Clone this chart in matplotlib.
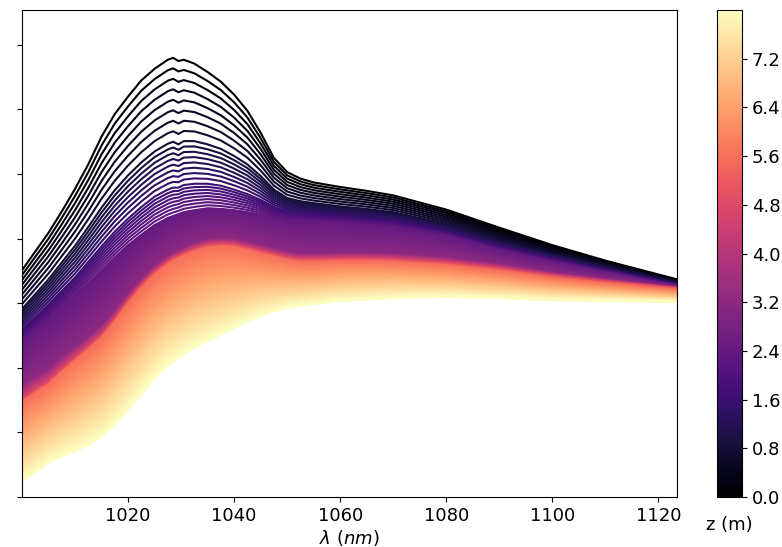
import numpy as np
import matplotlib
matplotlib.use("Agg")
import matplotlib.pyplot as plt
from matplotlib import cm, colors

# Wavelength nodes (nm) shared by all key spectra
wl = np.array([1000, 1002.5, 1005, 1007.5, 1010, 1012.5, 1015, 1017.5, 1020, 1022.5,
               1025, 1027.5, 1028.5, 1029.5, 1030.5, 1032.5, 1035, 1037.5, 1040, 1042.5,
               1045, 1047.5, 1050, 1052.5, 1055, 1060, 1065, 1070, 1080, 1090,
               1100, 1110, 1123.5])

# Key spectra (arbitrary units) at a few depths z (m)
z_key = np.array([0.0, 0.8, 1.6, 2.4, 3.2, 4.8, 5.6, 8.0])
spec_z0 = [3.51, 3.80, 4.09, 4.42, 4.77, 5.15, 5.58, 5.93, 6.20, 6.45,
           6.63, 6.77, 6.80, 6.75, 6.77, 6.71, 6.58, 6.43, 6.23, 5.98,
           5.64, 5.25, 5.03, 4.93, 4.87, 4.80, 4.74, 4.67, 4.45, 4.17,
           3.90, 3.66, 3.37]
spec_z08 = [2.91, 3.14, 3.37, 3.63, 3.89, 4.18, 4.48, 4.75, 4.98, 5.18,
            5.35, 5.47, 5.50, 5.46, 5.51, 5.51, 5.46, 5.39, 5.28, 5.15,
            4.97, 4.76, 4.63, 4.58, 4.55, 4.50, 4.46, 4.41, 4.23, 3.98,
            3.76, 3.57, 3.32]
spec_z16 = [2.58, 2.78, 2.98, 3.19, 3.40, 3.64, 3.88, 4.11, 4.31, 4.49,
            4.65, 4.76, 4.79, 4.79, 4.83, 4.85, 4.85, 4.82, 4.76, 4.69,
            4.60, 4.49, 4.42, 4.39, 4.37, 4.34, 4.31, 4.27, 4.11, 3.88,
            3.69, 3.51, 3.29]
spec_z24 = [2.38, 2.56, 2.74, 2.92, 3.10, 3.31, 3.51, 3.71, 3.90, 4.06,
            4.21, 4.32, 4.35, 4.38, 4.41, 4.44, 4.47, 4.46, 4.44, 4.41,
            4.37, 4.32, 4.28, 4.27, 4.26, 4.24, 4.21, 4.18, 4.04, 3.82,
            3.64, 3.48, 3.27]
spec_z32 = [1.73, 1.86, 1.98, 2.15, 2.32, 2.47, 2.64, 2.87, 3.13, 3.36,
            3.57, 3.72, 3.77, 3.81, 3.85, 3.92, 3.98, 4.00, 3.99, 3.94,
            3.89, 3.84, 3.79, 3.76, 3.76, 3.77, 3.77, 3.76, 3.70, 3.60,
            3.47, 3.37, 3.24]
spec_z48 = [1.50, 1.64, 1.77, 1.96, 2.14, 2.31, 2.49, 2.74, 3.02, 3.26,
            3.47, 3.63, 3.68, 3.72, 3.76, 3.83, 3.89, 3.91, 3.90, 3.85,
            3.80, 3.75, 3.70, 3.67, 3.67, 3.68, 3.68, 3.67, 3.62, 3.53,
            3.42, 3.33, 3.23]
spec_z56 = [1.46, 1.60, 1.73, 1.92, 2.10, 2.27, 2.45, 2.70, 2.98, 3.22,
            3.43, 3.59, 3.64, 3.68, 3.72, 3.79, 3.85, 3.87, 3.86, 3.81,
            3.76, 3.71, 3.66, 3.63, 3.63, 3.64, 3.64, 3.63, 3.58, 3.49,
            3.38, 3.30, 3.20]
spec_z8 = [0.25, 0.38, 0.53, 0.63, 0.71, 0.81, 0.94, 1.12, 1.36, 1.60,
           1.84, 2.04, 2.10, 2.16, 2.21, 2.32, 2.42, 2.52, 2.62, 2.72,
           2.81, 2.88, 2.93, 2.96, 2.99, 3.04, 3.06, 3.08, 3.10, 3.08,
           3.05, 3.04, 3.02]
spectra = np.array([spec_z0, spec_z08, spec_z16, spec_z24,
                    spec_z32, spec_z48, spec_z56, spec_z8])

# Depths of the plotted spectra: coarse near surface, fine deeper down
z_lines = np.concatenate([np.arange(0, 2.4, 0.1), np.arange(2.4, 8.0001, 0.01)])

cmap = plt.get_cmap("magma")
norm = colors.Normalize(vmin=0, vmax=8.0)

fig = plt.figure(figsize=(7.82, 5.47), dpi=100)
ax = fig.add_axes([0.0281, 0.0914, 0.8376, 0.8903])
cax = fig.add_axes([0.9169, 0.0914, 0.032, 0.8903])

for z in z_lines:
    y = np.array([np.interp(z, z_key, spectra[:, j]) for j in range(len(wl))])
    ax.plot(wl, y, color=cmap(norm(z)), lw=1.5)

ax.set_xlim(1000, 1123.5)
ax.set_ylim(0, 7.54)
ax.set_xticks([1020, 1040, 1060, 1080, 1100, 1120])
ax.set_yticks(range(8))
ax.set_yticklabels([])
ax.tick_params(labelsize=13)
ax.set_xlabel(r"$\lambda\ (nm)$", fontsize=13, labelpad=2)

sm = cm.ScalarMappable(norm=norm, cmap=cmap)
cbar = fig.colorbar(sm, cax=cax, ticks=np.arange(0, 7.3, 0.8))
cbar.ax.set_yticklabels(["%.1f" % t for t in np.arange(0, 7.3, 0.8)])
cbar.ax.tick_params(labelsize=13)
cbar.ax.set_xlabel("z (m)", fontsize=13, labelpad=14)

fig.savefig("out.png", dpi=100)
